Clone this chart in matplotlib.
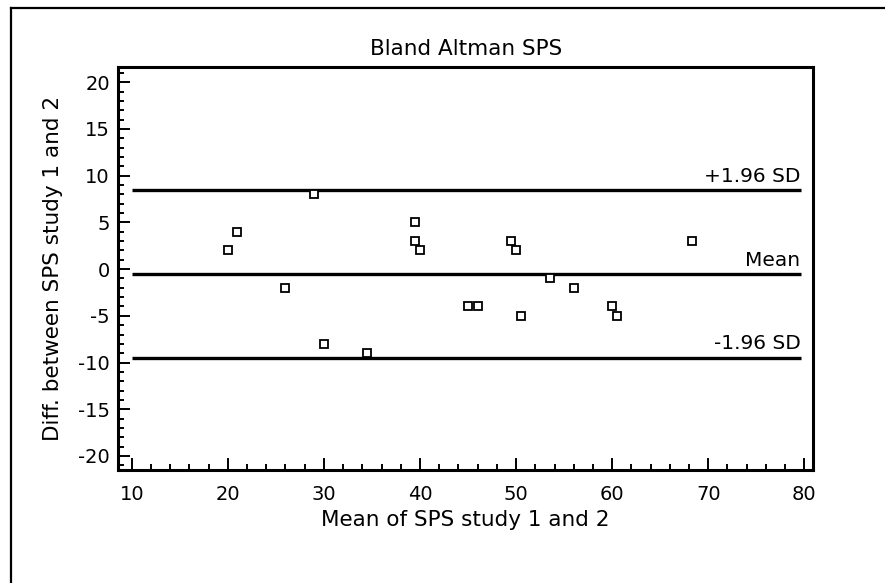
import matplotlib
matplotlib.use("Agg")
import matplotlib.pyplot as plt
from matplotlib.lines import Line2D
from matplotlib.ticker import MultipleLocator

plt.rcParams['font.family'] = ['DejaVu Sans']
plt.rcParams['axes.unicode_minus'] = False

# Data
mean_x = [20, 21, 26, 29, 30, 34.5, 39.5, 39.5, 40, 45, 46, 49.5, 50, 50.5, 53.5, 56, 60, 60.5, 68.3]
diff_y = [2, 4, -2, 8, -8, -9, 5, 3, 2, -4, -4, 3, 2, -5, -1, -2, -4, -5, 3]
mean_diff = -0.5
upper_loa = 8.47
lower_loa = -9.47
line_labels = ["+1.96 SD", "Mean", "-1.96 SD"]
line_x_range = [10, 79.6]

FS = 14
FL = 15.5

W, H = 885, 583
fig = plt.figure(figsize=(W / 100, H / 100), dpi=100)
fig.patch.set_facecolor('white')

# outer frame (top and left edges visible)
fig.add_artist(Line2D([10.5 / W, 1.0], [1 - 7.5 / H, 1 - 7.5 / H], transform=fig.transFigure,
                      color='black', lw=1.6))
fig.add_artist(Line2D([10.5 / W, 10.5 / W], [0, 1 - 7.5 / H], transform=fig.transFigure,
                      color='black', lw=1.6))

ax = fig.add_axes([118.3 / W, 1 - 470 / H, (813 - 118.3) / W, (470 - 67.3) / H])
ax.set_xlim(8.6, 80.9)
ax.set_ylim(-21.5, 21.6)

for lvl, lab in zip([upper_loa, mean_diff, lower_loa], line_labels):
    ax.plot(line_x_range, [lvl, lvl], color='black', lw=2.4, solid_capstyle='butt', zorder=2)
    ax.text(line_x_range[1], lvl + 0.45, lab, ha='right', va='bottom', fontsize=14.5)

ax.plot(mean_x, diff_y, linestyle='none', marker='s', markersize=5.6,
        markerfacecolor='white', markeredgecolor='black', markeredgewidth=1.3, zorder=3)

ax.xaxis.set_major_locator(MultipleLocator(10))
ax.xaxis.set_minor_locator(MultipleLocator(2))
ax.yaxis.set_major_locator(MultipleLocator(5))
ax.yaxis.set_minor_locator(MultipleLocator(1))
ax.tick_params(which='major', direction='in', length=8.5, width=1.4, labelsize=FS)
ax.tick_params(axis='x', which='major', pad=11)
ax.tick_params(axis='y', which='major', pad=6)
ax.tick_params(which='minor', direction='in', length=4.3, width=1.4)
ax.tick_params(top=False, right=False, which='both')

for s in ax.spines.values():
    s.set_linewidth(2.2)

ax.set_title("Bland Altman SPS", fontsize=FL, pad=9)
ax.set_xlabel("Mean of SPS study 1 and 2", fontsize=FL, labelpad=4)
ax.set_ylabel("Diff. between SPS study 1 and 2", fontsize=FL, labelpad=11)

fig.savefig("out.png", dpi=100)
